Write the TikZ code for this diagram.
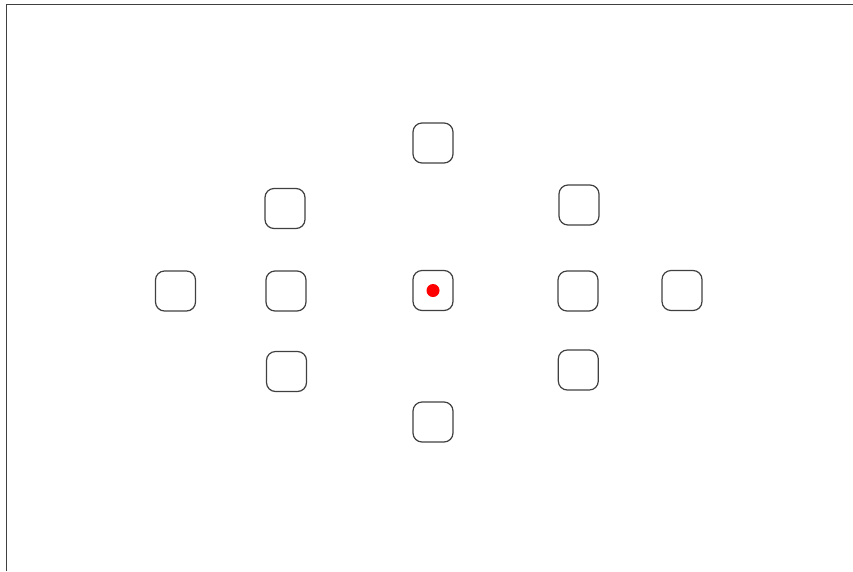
\documentclass[tikz,border=0pt]{standalone}
\usetikzlibrary{calc, positioning}

\begin{document}
\begin{tikzpicture}[x=1pt, y=-1pt]
\def\s{40pt}
\tikzset{afpt/.style={draw=black!75, line width=1.2pt, rounded corners=9pt, minimum size=\s, inner sep=0pt}}
\tikzset{focus/.style={circle, fill=red, minimum size=13pt, inner sep=0pt}}

\useasboundingbox (0,0) rectangle (853,571);
\coordinate (TL) at (6.5,4.7);
\draw[black!75, line width=1.5pt] (6.5,571) -- (TL) -- (853,4.7);

% centre column
\node[afpt] (T) at (433,143) {};
\node[afpt] (C) at (433,290.5) {};
\node[afpt] (B) at (433,422) {};

% left side
\node[afpt] (LU) at (285,208.5) {};
\node[afpt] (LM) at (286,291) {};
\node[afpt] (LD) at (286.5,371.5) {};
\node[afpt] (LL) at (175.5,291) {};

% right side
\node[afpt] (RU) at (579,205) {};
\node[afpt] (RM) at (578,291) {};
\node[afpt] (RD) at (578.3,370) {};
\node[afpt] (RR) at (682,290.5) {};

\node[focus] (dot) at (C) {};
\end{tikzpicture}
\end{document}
